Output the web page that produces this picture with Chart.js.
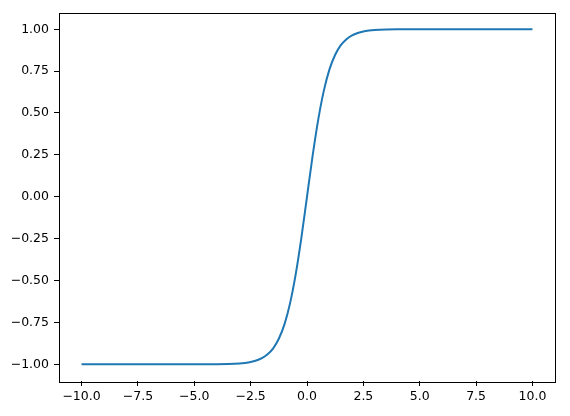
<!DOCTYPE html>
<html>
<head>
<meta charset="utf-8">
<script src="https://cdn.jsdelivr.net/npm/chart.js@4/dist/chart.umd.min.js"></script>
<style>
  html, body { margin: 0; padding: 0; background: #fff; }
  #wrap { width: 570px; height: 416px; }
</style>
</head>
<body>
<div id="wrap"><canvas id="chart" width="570" height="416"></canvas></div>
<script>
const ctx = document.querySelector('#chart').getContext('2d')

// values
const xValues = [-10, -8, -6, -5, -4, -3.5, -3, -2.75, -2.5, -2.25, -2, -1.75, -1.5, -1.25, -1, -0.75, -0.5, -0.25, 0,
  0.25, 0.5, 0.75, 1, 1.25, 1.5, 1.75, 2, 2.25, 2.5, 2.75, 3, 3.5, 4, 5, 6, 8, 10]
const yValues = [-1.0, -1.0, -1.0, -0.9999, -0.9993, -0.998, -0.995, -0.992, -0.987, -0.978, -0.964, -0.941, -0.905, -0.848, -0.762, -0.635, -0.462, -0.245, 0,
  0.245, 0.462, 0.635, 0.762, 0.848, 0.905, 0.941, 0.964, 0.978, 0.987, 0.992, 0.995, 0.998, 0.9993, 0.9999, 1.0, 1.0, 1.0]
const xTicks = [-10, -7.5, -5, -2.5, 0, 2.5, 5, 7.5, 10]
const yTicks = [-1, -0.75, -0.5, -0.25, 0, 0.25, 0.5, 0.75, 1]

const fmt = (v, d) => (v < 0 ? '\u2212' : '') + Math.abs(v).toFixed(d)

// frame round the plot area
const frame = {
  id: 'frame',
  afterDatasetsDraw(chart) {
    const a = chart.chartArea
    const c = chart.ctx
    c.save()
    c.strokeStyle = '#000'
    c.lineWidth = 1
    c.strokeRect(Math.round(a.left) + 0.5, Math.round(a.top) + 0.5, Math.round(a.right - a.left), Math.round(a.bottom - a.top))
    c.restore()
  }
}

const font = { family: 'DejaVu Sans', size: 12.5 }

new Chart(ctx, {
  type: 'scatter',
  data: {
    datasets: [{
      data: xValues.map((x, i) => ({ x: x, y: yValues[i] })),
      showLine: true,
      borderColor: '#1f77b4',
      borderWidth: 2,
      pointRadius: 0,
      cubicInterpolationMode: 'monotone'
    }]
  },
  options: {
    responsive: false,
    animation: false,
    layout: { padding: { top: 11, right: 15, left: 0, bottom: 0 } },
    plugins: { legend: { display: false }, tooltip: { enabled: false } },
    scales: {
      x: {
        type: 'linear', min: -11, max: 11,
        afterBuildTicks: s => { s.ticks = xTicks.map(v => ({ value: v })) },
        afterFit: s => { s.height = 35 },
        border: { display: false },
        grid: { drawOnChartArea: false, tickLength: 5, color: '#000', tickWidth: 1 },
        ticks: { color: '#000', font: font, padding: 3, maxRotation: 0, callback: v => fmt(v, 1) }
      },
      y: {
        type: 'linear', min: -1.1, max: 1.1,
        afterBuildTicks: s => { s.ticks = yTicks.map(v => ({ value: v })) },
        afterFit: s => { s.width = 59 },
        border: { display: false },
        grid: { drawOnChartArea: false, tickLength: 5, color: '#000', tickWidth: 1 },
        ticks: { color: '#000', font: font, padding: 5, callback: v => fmt(v, 2) }
      }
    }
  },
  plugins: [frame]
})
</script>
</body>
</html>
